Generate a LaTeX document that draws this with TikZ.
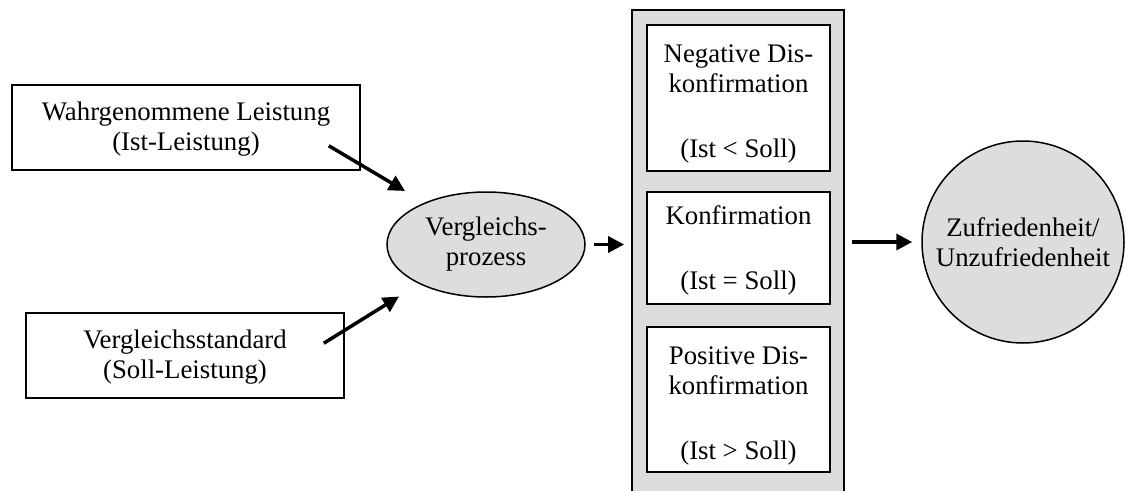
\documentclass[tikz,border=0pt]{standalone}
\usepackage{fontspec}
\setmainfont{Liberation Serif}
\usetikzlibrary{arrows.meta,shapes.geometric}
\definecolor{lightg}{RGB}{221,221,221}
\tikzset{
  txt/.style={font=\fontsize{26.8}{30}\selectfont, align=center, inner sep=0pt},
  box/.style={txt, draw=black, line width=1.5pt, fill=white},
  arr/.style={line width=3.5pt, -{Triangle[length=16pt,width=16pt]}},
}
\begin{document}
\begin{tikzpicture}[x=1pt,y=-1pt]
\useasboundingbox (0,0) rectangle (1127,490);
\clip (0,0) rectangle (1127,490);
% left boxes
\node[box, minimum width=348pt, minimum height=85pt] (b1) at (186,127.5)
  {\rule{0pt}{22pt}Wahrgenommene Leistung\\(Ist-Leistung)};
\node[box, minimum width=318pt, minimum height=85pt] (b2) at (185,355.5)
  {\rule{0pt}{22pt}Vergleichsstandard\\(Soll-Leistung)};
% ellipse
\node[txt, ellipse, draw=black, line width=1.5pt, fill=lightg,
  minimum width=198pt, minimum height=105pt] (ell) at (486,244.5)
  {Vergleichs-\\prozess};
% grey panel
\node[draw=black, line width=1.8pt, fill=lightg, minimum width=212pt,
  minimum height=500pt, inner sep=0pt] (panel) at (738,260) {};
% inner boxes
\node[box, minimum width=183pt, minimum height=146pt] (na) at (738.5,98)
  {\rule{0pt}{30pt}Negative Dis-\\konfirmation\\[35pt](Ist < Soll)};
\node[box, minimum width=183pt, minimum height=112pt] (ko) at (738.5,248)
  {\rule{0pt}{24pt}Konfirmation\\[35pt](Ist = Soll)};
\node[box, minimum width=183pt, minimum height=145pt] (po) at (738.5,399.5)
  {\rule{0pt}{30pt}Positive Dis-\\konfirmation\\[35pt](Ist > Soll)};
% circle
\node[txt, circle, draw=black, line width=1.5pt, fill=lightg,
  minimum size=202pt] (circ) at (1023,242)
  {Zufriedenheit/\\Unzufriedenheit};
% arrows
\coordinate (a1s) at ([xshift=-32pt,yshift=25pt]b1.south east);
\coordinate (a1e) at ([xshift=-81pt,yshift=53.5pt]ell.center);
\coordinate (a2s) at ([xshift=-21pt,yshift=-31pt]b2.north east);
\coordinate (a2e) at ([xshift=-87pt,yshift=-52pt]ell.center);
\draw[arr] (a1s) -- (a1e);
\draw[arr] (a2s) -- (a2e);
\draw[arr, shorten <=8pt, shorten >=7pt] (ell.east) -- (ell.east -| panel.west);
\draw[arr, shorten <=7pt, shorten >=9pt] (panel.east |- circ.west) -- (circ.west);
\end{tikzpicture}
\end{document}
